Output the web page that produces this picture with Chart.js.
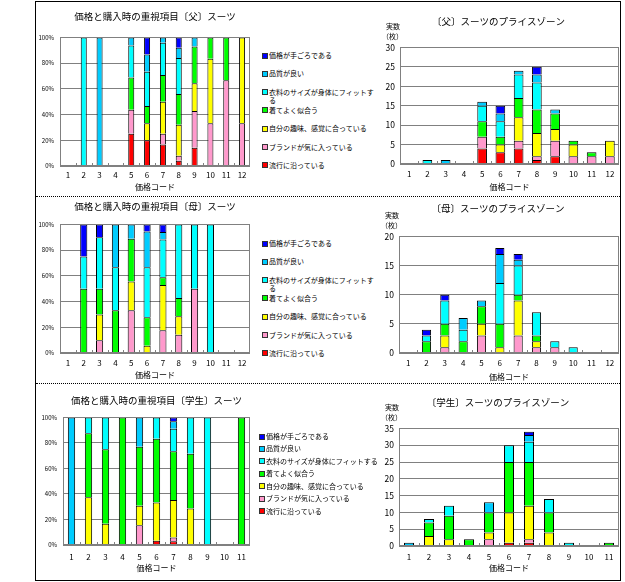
<!DOCTYPE html>
<html>
<head>
<meta charset="utf-8">
<script src="https://cdn.jsdelivr.net/npm/chart.js@4.4.0/dist/chart.umd.min.js"></script>
<style>
  body { margin: 0; background: #fff; font-family: "Noto Sans CJK JP", sans-serif; }
  #frame { position: absolute; left: 35px; top: 1px; width: 584px; height: 578px; border: 1px solid #000; }
  .sep { position: absolute; left: 36px; width: 584px; border-top: 1px dotted #000; }
  canvas { position: absolute; }
  .lg { position: absolute; font-size: 7px; line-height: 8px; color: #000; }
  .lg span.sw { position: absolute; left: 0; top: 1.5px; width: 4px; height: 4px; border: 1px solid #333; }
  .lg span.tx { display: block; padding-left: 7px; }
</style>
</head>
<body>
<div id="frame"></div>
<div class="sep" style="top:196px"></div>
<div class="sep" style="top:383px"></div>

<canvas id="fatherPct" style="left:36px;top:2px" width="218" height="190"></canvas>
<canvas id="fatherCnt" style="left:378px;top:2px" width="242" height="190"></canvas>
<canvas id="motherPct" style="left:36px;top:197px" width="218" height="183"></canvas>
<canvas id="motherCnt" style="left:377px;top:197px" width="243" height="185"></canvas>
<canvas id="studentPct" style="left:36px;top:386px" width="218" height="187"></canvas>
<canvas id="studentCnt" style="left:377px;top:386px" width="243" height="187"></canvas>

<div id="lgFather"></div>
<div id="lgMother"></div>
<div id="lgStudent"></div>

<script>
// series, bottom of the stack first
const seriesNames = ["流行に沿っている", "ブランドが気に入っている", "自分の趣味、感覚に合っている", "着てよく似合う", "衣料のサイズが身体にフィットする", "品質が良い", "価格が手ごろである"];
const seriesColors = ["#FF0000", "#FF99CC", "#FFFF00", "#00FF00", "#00FFFF", "#00CCFF", "#0000FF"];

// 父
const fatherCodes = ["1", "2", "3", "4", "5", "6", "7", "8", "9", "10", "11", "12"];
const fatherTrend   = [0, 0, 0, 0, 4, 3, 4, 1, 2, 0, 0, 0];
const fatherBrand   = [0, 0, 0, 0, 3, 0, 2, 1, 4, 2, 2, 2];
const fatherTaste   = [0, 0, 0, 0, 0, 2, 6, 6, 3, 3, 0, 4];
const fatherSuits   = [0, 0, 0, 0, 4, 2, 5, 6, 4, 1, 1, 0];
const fatherSize    = [0, 1, 0, 0, 4, 4, 6, 7, 0, 0, 0, 0];
const fatherQuality = [0, 0, 1, 0, 1, 2, 1, 2, 1, 0, 0, 0];
const fatherPrice   = [0, 0, 0, 0, 0, 2, 0, 2, 0, 0, 0, 0];

// 母
const motherCodes = ["1", "2", "3", "4", "5", "6", "7", "8", "9", "10", "11", "12"];
const motherTrend   = [0, 0, 0, 0, 0, 0, 0, 0, 0, 0, 0, 0];
const motherBrand   = [0, 0, 1, 0, 3, 0, 3, 1, 1, 0, 0, 0];
const motherTaste   = [0, 0, 2, 0, 2, 1, 6, 1, 0, 0, 0, 0];
const motherSuits   = [0, 2, 2, 2, 3, 4, 1, 1, 0, 0, 0, 0];
const motherSize    = [0, 1, 4, 2, 0, 7, 5, 4, 1, 1, 0, 0];
const motherQuality = [0, 0, 0, 2, 1, 5, 1, 0, 0, 0, 0, 0];
const motherPrice   = [0, 1, 1, 0, 0, 1, 1, 0, 0, 0, 0, 0];

// 学生
const studentCodes = ["1", "2", "3", "4", "5", "6", "7", "8", "9", "10", "11"];
const studentTrend   = [0, 0, 0, 0, 0, 1, 1, 0, 0, 0, 0];
const studentBrand   = [0, 0, 0, 0, 2, 0, 1, 0, 0, 0, 0];
const studentTaste   = [0, 3, 2, 0, 2, 9, 10, 4, 0, 0, 0];
const studentSuits   = [0, 4, 7, 2, 6, 15, 13, 6, 0, 0, 1];
const studentSize    = [0, 1, 3, 0, 0, 5, 6, 4, 1, 0, 0];
const studentQuality = [1, 0, 0, 0, 3, 0, 2, 0, 0, 0, 0];
const studentPrice   = [0, 0, 0, 0, 0, 0, 1, 0, 0, 0, 0];

const fatherRows = [fatherTrend, fatherBrand, fatherTaste, fatherSuits, fatherSize, fatherQuality, fatherPrice];
const motherRows = [motherTrend, motherBrand, motherTaste, motherSuits, motherSize, motherQuality, motherPrice];
const studentRows = [studentTrend, studentBrand, studentTaste, studentSuits, studentSize, studentQuality, studentPrice];

Chart.defaults.font.family = '"Noto Sans CJK JP", sans-serif';
Chart.defaults.color = "#000";
Chart.defaults.animation = false;

function makeDatasets(rows, percent, barPct) {
  const totals = rows[0].map((_, i) => rows.reduce((s, r) => s + r[i], 0));
  return rows.map((r, k) => ({
    label: seriesNames[k],
    data: r.map((v, i) => (v === 0 ? null : percent ? (v / totals[i]) * 100 : v)),
    backgroundColor: seriesColors[k],
    borderColor: "#000",
    borderWidth: 1,
    barPercentage: barPct,
    categoryPercentage: 1
  }));
}

// gray box round the plot, little marks between codes, and the 実数（枚） note
function framePlugin(unit) {
  return {
    id: "plotFrame",
    afterDatasetsDraw(chart) {
      const a = chart.chartArea;
      const ctx = chart.ctx;
      const xs = chart.scales.x;
      const n = chart.data.labels.length;
      const half = (a.right - a.left) / n / 2;
      ctx.save();
      ctx.strokeStyle = "#808080";
      ctx.lineWidth = 1;
      ctx.strokeRect(Math.round(a.left) + 0.5, Math.round(a.top) + 0.5, Math.round(a.right - a.left) - 1, Math.round(a.bottom - a.top) - 1);
      ctx.beginPath();
      for (let i = 1; i < n; i++) {
        const px = Math.round(xs.getPixelForValue(i) - half) + 0.5;
        ctx.moveTo(px, a.bottom);
        ctx.lineTo(px, a.bottom - 3);
      }
      ctx.stroke();
      if (unit) {
        ctx.fillStyle = "#000";
        ctx.font = '7px "Noto Sans CJK JP"';
        ctx.textBaseline = "middle";
        ctx.fillText("実数", a.left - 14, a.top - 21);
        ctx.fillText("（枚）", a.left - 18, a.top - 11);
      }
      ctx.restore();
    }
  };
}

function makeChart(id, c) {
  new Chart(document.getElementById(id), {
    type: "bar",
    data: { labels: c.labels, datasets: makeDatasets(c.rows, c.percent, c.barPct) },
    options: {
      responsive: false,
      layout: { padding: { left: 0, right: c.rightPad, top: 0, bottom: 0 } },
      plugins: {
        legend: { display: false },
        tooltip: { enabled: false },
        title: {
          display: true,
          text: c.title,
          fullSize: !c.percent,
          font: { size: 9.5, weight: "normal" },
          color: "#000",
          padding: { top: c.titleTop, bottom: c.titleBottom }
        }
      },
      scales: {
        x: {
          stacked: true,
          grid: { display: false, drawTicks: false },
          border: { display: false },
          ticks: { font: { size: 8 }, padding: c.tickPad, maxRotation: 0 },
          title: { display: true, text: "価格コード", font: { size: 8 }, padding: { top: 0, bottom: 0 } },
          afterFit: (s) => { s.height = c.xHeight; }
        },
        y: {
          stacked: true,
          min: 0,
          max: c.yMax,
          grid: { color: "#808080", lineWidth: 1, drawTicks: false },
          border: { display: false },
          ticks: {
            stepSize: c.yStep,
            padding: c.percent ? 6 : 5,
            font: { size: c.percent ? 6 : 8.5 },
            callback: (v) => (c.percent ? v + "%" : v)
          },
          afterFit: (s) => { s.width = c.yWidth; }
        }
      }
    },
    plugins: [framePlugin(!c.percent)]
  });
}

makeChart("fatherPct", { labels: fatherCodes, rows: fatherRows, percent: true, yMax: 100, yStep: 20, barPct: 0.38,
  title: "価格と購入時の重視項目〔父〕スーツ", titleTop: 9, titleBottom: 15, yWidth: 24, rightPad: 4, xHeight: 26, tickPad: 4 });
makeChart("fatherCnt", { labels: fatherCodes, rows: fatherRows, percent: false, yMax: 30, yStep: 5, barPct: 0.53,
  title: "〔父〕スーツのプライスゾーン", titleTop: 14, titleBottom: 20, yWidth: 22, rightPad: 1, xHeight: 28, tickPad: 5 });
makeChart("motherPct", { labels: motherCodes, rows: motherRows, percent: true, yMax: 100, yStep: 20, barPct: 0.45,
  title: "価格と購入時の重視項目〔母〕スーツ", titleTop: 4, titleBottom: 12, yWidth: 24, rightPad: 4, xHeight: 27, tickPad: 5 });
makeChart("motherCnt", { labels: motherCodes, rows: motherRows, percent: false, yMax: 20, yStep: 5, barPct: 0.5,
  title: "〔母〕スーツのプライスゾーン", titleTop: 6, titleBottom: 22, yWidth: 22, rightPad: 1, xHeight: 29, tickPad: 5 });
makeChart("studentPct", { labels: studentCodes, rows: studentRows, percent: true, yMax: 100, yStep: 20, barPct: 0.43,
  title: "価格と購入時の重視項目〔学生〕スーツ", titleTop: 9, titleBottom: 11, yWidth: 27, rightPad: 4, xHeight: 28, tickPad: 7 });
makeChart("studentCnt", { labels: studentCodes, rows: studentRows, percent: false, yMax: 35, yStep: 5, barPct: 0.5,
  title: "〔学生〕スーツのプライスゾーン", titleTop: 11, titleBottom: 20, yWidth: 22, rightPad: 1, xHeight: 27, tickPad: 6 });

// legends, top entry is the top of the stack
function makeLegend(id, left, firstY, step, width) {
  const box = document.getElementById(id);
  for (let k = seriesNames.length - 1, row = 0; k >= 0; k--, row++) {
    const d = document.createElement("div");
    d.className = "lg";
    d.style.left = left + "px";
    d.style.top = (firstY + row * step - 4) + "px";
    d.style.width = width + "px";
    d.innerHTML = '<span class="sw" style="background:' + seriesColors[k] + '"></span><span class="tx">' + seriesNames[k] + "</span>";
    box.appendChild(d);
  }
}
makeLegend("lgFather", 262, 55, 18.3, 114);
makeLegend("lgMother", 262, 243, 18.3, 114);
makeLegend("lgStudent", 259, 436, 12.45, 130);
</script>
</body>
</html>
